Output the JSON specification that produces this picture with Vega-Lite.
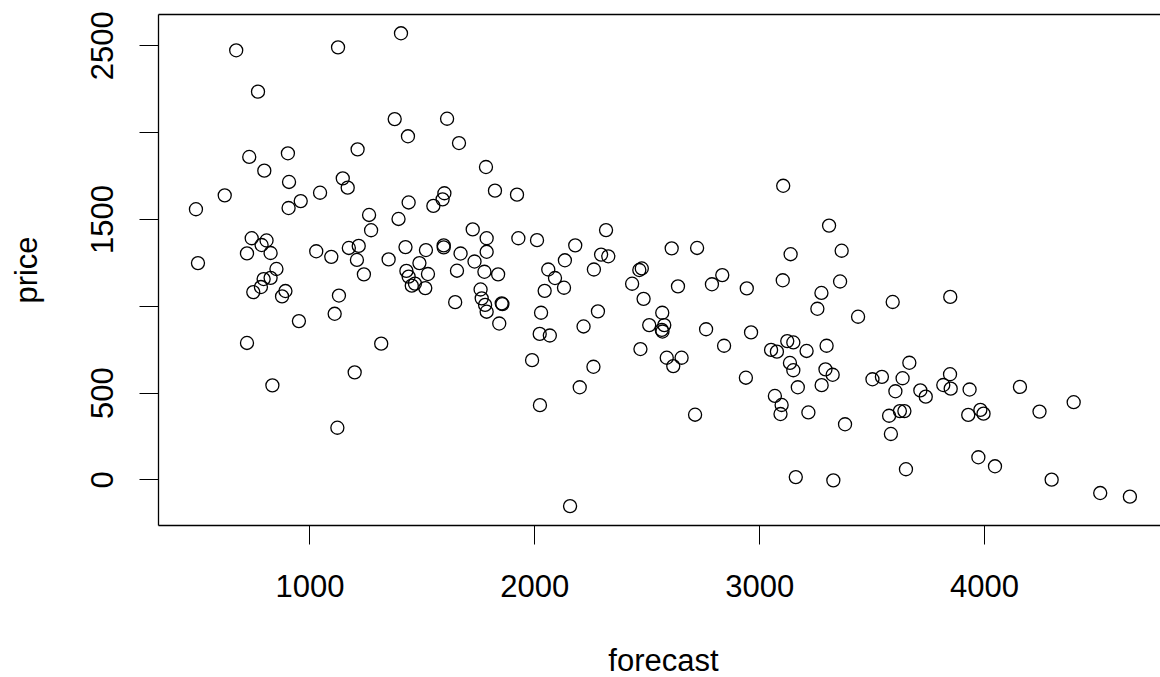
{
  "$schema": "https://vega.github.io/schema/vega-lite/v6.json",
  "width": 1002,
  "height": 511,
  "autosize": {"type": "none"},
  "padding": {"left": 158, "top": 14, "right": 0, "bottom": 152},
  "background": "white",
  "config": {"view": {"stroke": null}, "font": "Liberation Sans"},
  "data": {"values": [
    {"forecast":674,"price":2471},{"forecast":1127,"price":2488},{"forecast":1407,"price":2569},{"forecast":771,"price":2233},
    {"forecast":1379,"price":2075},{"forecast":1612,"price":2077},{"forecast":1438,"price":1976},{"forecast":1665,"price":1937},
    {"forecast":1785,"price":1799},{"forecast":732,"price":1857},{"forecast":904,"price":1878},{"forecast":799,"price":1778},
    {"forecast":1214,"price":1901},{"forecast":1148,"price":1734},{"forecast":1170,"price":1680},{"forecast":909,"price":1713},
    {"forecast":623,"price":1636},{"forecast":1047,"price":1651},{"forecast":961,"price":1603},{"forecast":907,"price":1563},
    {"forecast":495,"price":1556},{"forecast":1600,"price":1648},{"forecast":1592,"price":1613},{"forecast":1551,"price":1575},
    {"forecast":1441,"price":1595},{"forecast":1265,"price":1523},{"forecast":1396,"price":1500},{"forecast":1274,"price":1435},
    {"forecast":1726,"price":1440},{"forecast":1825,"price":1663},{"forecast":1923,"price":1640},{"forecast":3107,"price":1691},
    {"forecast":743,"price":1389},{"forecast":809,"price":1376},{"forecast":787,"price":1350},{"forecast":722,"price":1302},
    {"forecast":827,"price":1304},{"forecast":1030,"price":1314},{"forecast":1097,"price":1282},{"forecast":1175,"price":1333},
    {"forecast":1219,"price":1345},{"forecast":1211,"price":1264},{"forecast":1352,"price":1267},{"forecast":1427,"price":1338},
    {"forecast":1518,"price":1321},{"forecast":1597,"price":1348},{"forecast":1597,"price":1336},{"forecast":1672,"price":1301},
    {"forecast":1734,"price":1255},{"forecast":504,"price":1246},{"forecast":853,"price":1212},{"forecast":827,"price":1161},
    {"forecast":796,"price":1154},{"forecast":784,"price":1108},{"forecast":750,"price":1079},{"forecast":893,"price":1085},
    {"forecast":878,"price":1054},{"forecast":1242,"price":1181},{"forecast":1131,"price":1059},{"forecast":1112,"price":954},
    {"forecast":953,"price":912},{"forecast":1489,"price":1246},{"forecast":1431,"price":1201},{"forecast":1441,"price":1168},
    {"forecast":1455,"price":1116},{"forecast":1469,"price":1128},{"forecast":1527,"price":1183},{"forecast":1515,"price":1102},
    {"forecast":1656,"price":1202},{"forecast":1648,"price":1021},{"forecast":1788,"price":1389},{"forecast":1929,"price":1389},
    {"forecast":2012,"price":1378},{"forecast":1788,"price":1311},{"forecast":1778,"price":1196},{"forecast":1839,"price":1181},
    {"forecast":1761,"price":1094},{"forecast":1766,"price":1043},{"forecast":1781,"price":1005},{"forecast":1788,"price":966},
    {"forecast":1855,"price":1014},{"forecast":1858,"price":1010},{"forecast":1844,"price":898},{"forecast":2062,"price":1209},
    {"forecast":2092,"price":1160},{"forecast":2136,"price":1262},{"forecast":2182,"price":1348},{"forecast":2132,"price":1104},
    {"forecast":2046,"price":1086},{"forecast":2030,"price":960},{"forecast":2024,"price":838},{"forecast":2069,"price":829},
    {"forecast":2219,"price":881},{"forecast":2283,"price":968},{"forecast":2319,"price":1436},{"forecast":2297,"price":1295},
    {"forecast":2329,"price":1285},{"forecast":2265,"price":1209},{"forecast":2435,"price":1127},{"forecast":2467,"price":1206},
    {"forecast":2478,"price":1215},{"forecast":2486,"price":1040},{"forecast":2639,"price":1112},{"forecast":2611,"price":1331},
    {"forecast":2724,"price":1333},{"forecast":2790,"price":1124},{"forecast":2836,"price":1177},{"forecast":2945,"price":1100},
    {"forecast":3105,"price":1147},{"forecast":3140,"price":1297},{"forecast":3311,"price":1462},{"forecast":3367,"price":1317},
    {"forecast":3360,"price":1140},{"forecast":3277,"price":1074},{"forecast":3259,"price":983},{"forecast":3440,"price":937},
    {"forecast":2569,"price":960},{"forecast":2511,"price":889},{"forecast":2578,"price":889},{"forecast":2567,"price":861},
    {"forecast":2570,"price":852},{"forecast":2764,"price":865},{"forecast":2964,"price":847},{"forecast":3594,"price":1022},
    {"forecast":3850,"price":1051},{"forecast":2472,"price":751},{"forecast":2589,"price":701},{"forecast":2655,"price":701},
    {"forecast":2618,"price":653},{"forecast":2844,"price":770},{"forecast":1990,"price":687},{"forecast":2263,"price":649},
    {"forecast":2202,"price":531},{"forecast":2025,"price":428},{"forecast":2159,"price":-153},{"forecast":722,"price":786},
    {"forecast":1319,"price":782},{"forecast":1201,"price":617},{"forecast":835,"price":542},{"forecast":1124,"price":298},
    {"forecast":2715,"price":373},{"forecast":2941,"price":586},{"forecast":3053,"price":746},{"forecast":3079,"price":736},
    {"forecast":3125,"price":797},{"forecast":3152,"price":789},{"forecast":3211,"price":740},{"forecast":3300,"price":770},
    {"forecast":3137,"price":671},{"forecast":3152,"price":629},{"forecast":3172,"price":531},{"forecast":3070,"price":481},
    {"forecast":3100,"price":429},{"forecast":3095,"price":377},{"forecast":3219,"price":386},{"forecast":3163,"price":14},
    {"forecast":3295,"price":634},{"forecast":3327,"price":603},{"forecast":3278,"price":543},{"forecast":3504,"price":577},
    {"forecast":3546,"price":591},{"forecast":3382,"price":318},{"forecast":3668,"price":672},{"forecast":3638,"price":583},
    {"forecast":3606,"price":508},{"forecast":3717,"price":513},{"forecast":3741,"price":477},{"forecast":3849,"price":606},
    {"forecast":3819,"price":544},{"forecast":3852,"price":523},{"forecast":3936,"price":518},{"forecast":4160,"price":533},
    {"forecast":4399,"price":445},{"forecast":3578,"price":367},{"forecast":3626,"price":394},{"forecast":3646,"price":394},
    {"forecast":3586,"price":262},{"forecast":3930,"price":372},{"forecast":3984,"price":401},{"forecast":3998,"price":379},
    {"forecast":4247,"price":391},{"forecast":3975,"price":128},{"forecast":4049,"price":76},{"forecast":3653,"price":59},
    {"forecast":3330,"price":-5},{"forecast":4301,"price":-1},{"forecast":4517,"price":-78},{"forecast":4649,"price":-99}
  ]},
  "layer": [
    {
      "mark": {"type": "point", "shape": "circle", "filled": false, "stroke": "black", "strokeWidth": 1.3, "size": 170, "opacity": 1},
      "encoding": {
        "x": {"field": "forecast", "type": "quantitative",
          "scale": {"domain": [326.2, 4782.9], "nice": false, "zero": false},
          "axis": {"orient": "bottom", "values": [1000, 2000, 3000, 4000], "format": "d", "grid": false,
            "labelFontSize": 31, "labelColor": "black", "labelFont": "Liberation Sans", "labelOverlap": false, "labelFlush": false,
            "labelBaseline": "alphabetic", "labelPadding": 52,
            "tickSize": 19, "tickColor": "black", "tickWidth": 1, "domainColor": "black", "domainWidth": 1.3,
            "title": "forecast", "titleFontSize": 31, "titleFont": "Liberation Sans", "titleFontWeight": "normal", "titleColor": "black",
            "titleBaseline": "alphabetic", "titleX": 505, "titleY": 145, "titleAlign": "center"}},
        "y": {"field": "price", "type": "quantitative",
          "scale": {"domain": [-262, 2680], "nice": false, "zero": false},
          "axis": {"orient": "left", "values": [0, 500, 1000, 1500, 2000, 2500], "format": "d", "grid": false,
            "labelExpr": "(datum.value == 1000 || datum.value == 2000) ? '' : datum.label",
            "labelAngle": -90, "labelAlign": "center", "labelBaseline": "alphabetic", "labelPadding": 27,
            "labelFontSize": 31, "labelColor": "black", "labelFont": "Liberation Sans", "labelOverlap": false, "labelFlush": false,
            "tickSize": 19, "tickColor": "black", "tickWidth": 1, "domainColor": "black", "domainWidth": 1.3,
            "title": "price", "titleFontSize": 31, "titleFont": "Liberation Sans", "titleFontWeight": "normal", "titleColor": "black",
            "titleAngle": -90, "titleBaseline": "alphabetic", "titleAlign": "center", "titleX": -122, "titleY": 255.5}}
      }
    },
    {
      "mark": {"type": "point", "opacity": 0},
      "encoding": {
        "x": {"field": "forecast", "type": "quantitative",
          "axis": {"orient": "top", "labels": false, "ticks": false, "grid": false, "domain": true, "domainColor": "black", "domainWidth": 1.3, "title": null}}
      }
    }
  ],
  "resolve": {"axis": {"x": "independent"}}
}
